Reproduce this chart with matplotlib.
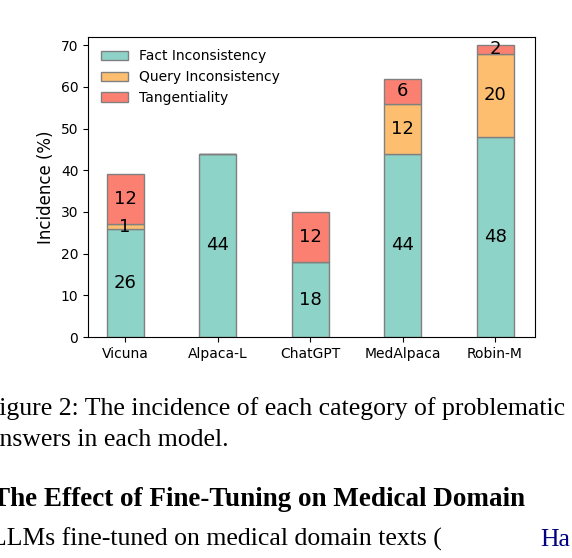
import matplotlib.pyplot as plt
import numpy as np

models = ["Vicuna", "Alpaca-L", "ChatGPT", "MedAlpaca", "Robin-M"]
fact = [26, 44, 18, 44, 48]
query = [1, 0, 0, 12, 20]
tang = [12, 0, 12, 6, 2]

colors = ["#8dd3c7", "#fdbf6f", "#fb8072"]
names = ["Fact Inconsistency", "Query Inconsistency", "Tangentiality"]

fig = plt.figure(figsize=(5.72, 5.58), dpi=100)
ax = fig.add_axes([0.154, 0.396, 0.781, 0.538])

x = np.arange(len(models))
bottom = np.zeros(len(models))
for vals, c, n in zip([fact, query, tang], colors, names):
    vals = np.array(vals)
    ax.bar(x, vals, 0.4, bottom=bottom, color=c, edgecolor="grey", linewidth=1, label=n)
    for xi, b, v in zip(x, bottom, vals):
        if v > 0:
            ax.text(xi, b + v / 2, str(v), ha="center", va="center", fontsize=13)
    bottom += vals

ax.set_xticks(x)
ax.set_xticklabels(models, fontsize=10)
ax.set_ylim(0, 72)
ax.set_xlim(-0.4, 4.43)
ax.set_yticks(range(0, 71, 10))
ax.tick_params(axis="y", labelsize=10)
ax.set_ylabel("Incidence (%)", fontsize=12)
ax.legend(loc="upper left", fontsize=10, frameon=False)

serif = "Liberation Serif"
fig.text(-0.026, 0.268, "Figure 2: The incidence of each category of problematic",
         fontsize=18.5, family=serif, va="center")
fig.text(-0.021, 0.211, "answers in each model.", fontsize=18.5, family=serif, va="center")
fig.text(-0.014, 0.104, "The Effect of Fine-Tuning on Medical Domain",
         fontsize=19.5, family=serif, weight="bold", va="center")
fig.text(-0.016, 0.033, "LLMs fine-tuned on medical domain texts (", fontsize=18.5,
         family=serif, va="center")
fig.text(0.945, 0.033, "Ha", fontsize=18.5, family=serif, va="center", color="#000080")

fig.savefig("out.png", dpi=100)
